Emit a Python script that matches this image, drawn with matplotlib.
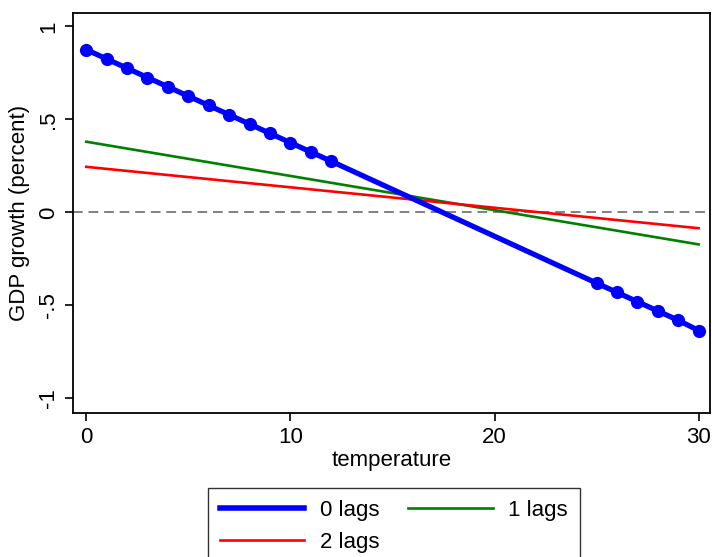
import matplotlib
matplotlib.use("Agg")
import matplotlib.pyplot as plt

plt.rcParams['font.family'] = ['Liberation Sans', 'DejaVu Sans']

# 0 lags: marginal effect, markers only where observed
temp_lag0 = [0, 1, 2, 3, 4, 5, 6, 7, 8, 9, 10, 11, 12, 25, 26, 27, 28, 29, 30]
gdp_lag0 = [0.875, 0.825, 0.775, 0.725, 0.675, 0.625, 0.575, 0.525, 0.475,
            0.425, 0.375, 0.325, 0.275, -0.380, -0.430, -0.480, -0.530,
            -0.580, -0.635]

temp_lag1 = [0, 30]
gdp_lag1 = [0.38, -0.172]

temp_lag2 = [0, 30]
gdp_lag2 = [0.245, -0.085]

xticks = [0, 10, 20, 30]
yticks = [-1, -0.5, 0, 0.5, 1]
ytick_labels = ["-1", "-.5", "0", ".5", "1"]

fig = plt.figure(figsize=(7.12, 5.57), dpi=100)
ax = fig.add_axes([0.1025, 0.258, 0.8945, 0.719])

ax.axhline(0, color='gray', lw=1.4, ls=(0, (5, 3)), zorder=1)
h0, = ax.plot(temp_lag0, gdp_lag0, color='blue', lw=3.8, marker='o',
              markersize=8.5, zorder=4, label='0 lags')
h1, = ax.plot(temp_lag1, gdp_lag1, color='green', lw=1.9, zorder=3, label='1 lags')
h2, = ax.plot(temp_lag2, gdp_lag2, color='red', lw=1.9, zorder=3, label='2 lags')

ax.set_xlim(-0.65, 30.55)
ax.set_ylim(-1.08, 1.073)
ax.set_xticks(xticks)
ax.set_yticks(yticks)
ax.set_yticklabels(ytick_labels, rotation=90, va='center')
ax.tick_params(labelsize=16, length=6, width=1.2, direction='out', pad=4)
for s in ax.spines.values():
    s.set_linewidth(1.3)

ax.set_xlabel("temperature", fontsize=16, labelpad=1)
ax.set_ylabel("GDP growth (percent)", fontsize=16, labelpad=6)

leg_line0 = plt.Line2D([], [], color='blue', lw=4)
fig.legend([leg_line0, h2, h1], ['0 lags', '2 lags', '1 lags'], ncol=2,
           loc='upper center', bbox_to_anchor=(0.553, 0.124), fontsize=16,
           frameon=True, fancybox=False, edgecolor='black', handlelength=3.8,
           columnspacing=1.3, borderpad=0.55, labelspacing=0.5,
           borderaxespad=0, handletextpad=0.7)

fig.savefig("out.png", dpi=100)
